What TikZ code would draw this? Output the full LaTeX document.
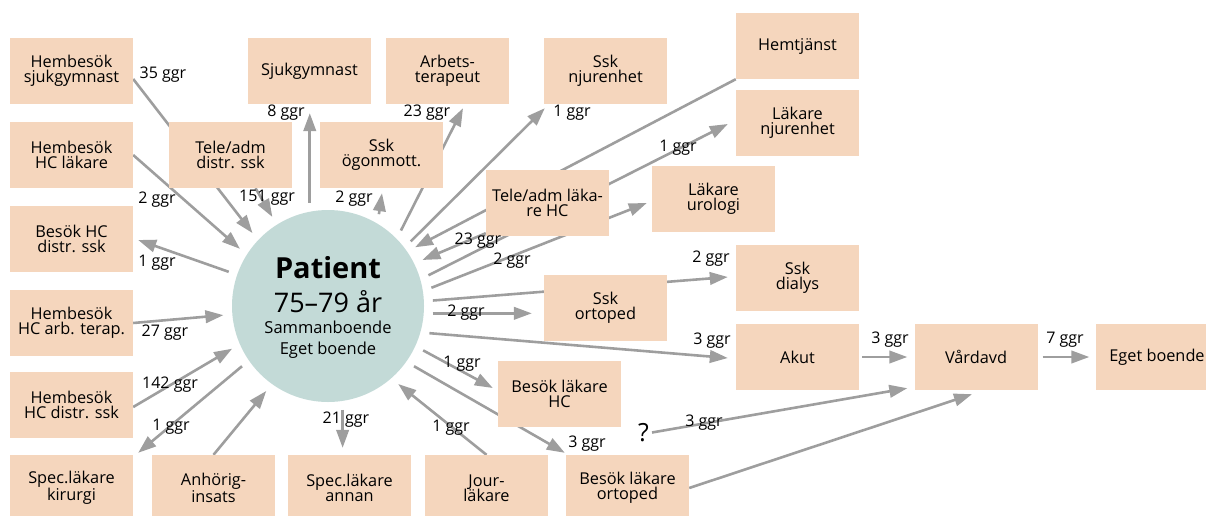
\documentclass[tikz,border=0pt]{standalone}
\usepackage{fontspec}
\setmainfont{Open Sans}
\usetikzlibrary{arrows.meta,calc,backgrounds}
\definecolor{peach}{HTML}{F5D6BD}
\definecolor{pcirc}{HTML}{C3DAD7}
\definecolor{arrgray}{HTML}{9E9E9E}
\begin{document}
\begin{tikzpicture}[x=1pt,y=-1pt,
  box/.style={fill=peach, minimum width=123pt, minimum height=66pt, inner sep=0pt, align=center, font=\fontsize{16.3}{15.5}\selectfont},
  lbl/.style={inner sep=0pt, font=\fontsize{16}{16}\selectfont},
  arr/.style={draw=arrgray, line width=2.6pt, -{Triangle[length=18pt,width=12.5pt]}},
  ptxt/.style={inner sep=0pt, anchor=base}]
\useasboundingbox (0,0) rectangle (1206,515);
\clip (0,0) rectangle (1206,515);
% boxes
\node[box] (hsj) at (71.5,71) {Hembesök\\sjukgymnast};
\node[box] (sjg) at (309.5,71) {Sjukgymnast};
\node[box] (arb) at (447.5,71) {Arbets-\\terapeut};
\node[box] (sskn) at (605.5,71) {Ssk\\njurenhet};
\node[box] (hemt) at (797.5,46) {Hemtjänst};
\node[box] (lakn) at (797.5,123) {Läkare\\njurenhet};
\node[box] (laku) at (713.5,199) {Läkare\\urologi};
\node[box] (tlhc) at (547.5,203) {Tele/adm läka-\\re HC};
\node[box] (hhcl) at (71.5,155) {Hembesök\\HC läkare};
\node[box] (tds) at (230.5,155) {Tele/adm\\distr. ssk};
\node[box] (sskog) at (381.5,155) {Ssk\\ögonmott.};
\node[box] (bhcd) at (71.5,239) {Besök HC\\distr. ssk};
\node[box] (hat) at (71.5,323) {Hembesök\\HC arb. terap.};
\node[box] (hds) at (71.5,405) {Hembesök\\HC distr. ssk};
\node[box] (spk) at (71.5,488) {Spec.läkare\\kirurgi};
\node[box] (anh) at (213.5,488) {Anhörig-\\insats};
\node[box] (spa) at (349.5,488) {Spec.läkare\\annan};
\node[box] (jour) at (486.5,488) {Jour-\\läkare};
\node[box] (blo) at (627.5,488) {Besök läkare\\ortoped};
\node[box] (blhc) at (559.5,394) {Besök läkare\\HC};
\node[box] (ssko) at (605.5,308) {Ssk\\ortoped};
\node[box] (sskd) at (797.5,278) {Ssk\\dialys};
\node[box] (akut) at (797.5,357) {Akut};
\node[box] (vard) at (976,357) {Vårdavd};
\node[box] (egb) at (1157,357) {Eget boende};
% patient
\node[circle, fill=pcirc, minimum size=192pt, inner sep=0pt, outer sep=9pt] (patient) at (328,306) {};
\node[ptxt, font=\fontsize{29}{29}\selectfont\bfseries] (pt1) at (328,278) {Patient};
\node[ptxt, font=\fontsize{27}{27}\selectfont] (pt2) at (328,312) {75–79 år};
\node[ptxt, font=\fontsize{16.5}{16.5}\selectfont] (pt3) at (328,333) {Sammanboende};
\node[ptxt, font=\fontsize{16.5}{16.5}\selectfont] (pt4) at (328,354) {Eget boende};
\node[inner sep=0pt, font=\fontsize{25}{25}\selectfont] (q) at (643.5,433) {?};
% connectors
\begin{pgfonlayer}{background}
\draw[arr] ($(hsj.east)+(0,8)$) -- (patient.136);
\draw[arr] ($(tds.south)+(25,0)$) -- (patient.122);
\draw[arr] (hhcl.east) -- (patient.147);
\draw[arr] (patient.161) -- ($(bhcd.east)+(5,1)$);
\draw[arr] (hat.east) -- (patient.185);
\draw[arr] ($(hds.east)+(0,2)$) -- (patient.204);
\draw[arr] (patient.215) -- ($(spk.north east)+(5,-2)$);
\draw[arr] (anh.north) -- (patient.234);
\draw[arr] (patient.278) -- ($(patient.278 |- spa.north)+(0,-7)$);
\draw[arr] (jour.north) -- (patient.312);
\draw[arr] (patient.325) -- ($(blo.north west)+(-1,-2)$);
\draw[arr] (patient.335) -- ($(blhc.west)+(-5,-6)$);
\draw[arr] (patient.345) -- ($(akut.west)+(-8,1)$);
\draw[arr] (patient.356) -- ($(patient.356 -| ssko.west)+(-12,0)$);
\draw[arr] (patient.3) -- ($(sskd.west)+(-8,-1)$);
\draw[arr] (patient.10) -- ($(laku.west)+(-5,4)$);
\draw[arr] (patient.17) -- ($(lakn.west)+(-8,1)$);
\draw[arr] ($(tlhc.south west)+(0,-3)$) -- (patient.26);
\draw[arr] (hemt.south west) -- (patient.34);
\draw[arr] (patient.38) -- ($(sskn.south west)+(1,4)$);
\draw[arr] (patient.46) -- ($(arb.south)+(15.5,4)$);
\draw[arr] (patient.61) -- ($(sskog.south)+(0.5,5)$);
\draw[arr] (patient.100) -- ($(patient.100 |- sjg.south)+(0,9)$);
\draw[arr, shorten <=3pt, shorten >=7pt] (akut.east) -- (vard.west);
\draw[arr, shorten <=5pt, shorten >=6pt] (vard.east) -- (egb.west);
\draw[arr, shorten <=3pt] (q.east) -- ($(vard.south west)+(-7,-2)$);
\draw[arr] (blo.east) -- ($(vard.south)+(-4,4)$);
\end{pgfonlayer}
% labels
\node[lbl] (l35) at (163,75) {35 ggr};
\node[lbl] (l151) at (267,198) {151 ggr};
\node[lbl] (l2a) at (157,200) {2 ggr};
\node[lbl] (l1a) at (157,263) {1 ggr};
\node[lbl] (l27) at (165,333) {27 ggr};
\node[lbl] (l142) at (170,385) {142 ggr};
\node[lbl] (l1b) at (171,427) {1 ggr};
\node[lbl] (l21) at (346,420) {21 ggr};
\node[lbl] (l1c) at (451,428) {1 ggr};
\node[lbl] (l3a) at (587,444) {3 ggr};
\node[lbl] (l1d) at (462,364) {1 ggr};
\node[lbl] (l3b) at (712,341) {3 ggr};
\node[lbl] (l2b) at (466,313) {2 ggr};
\node[lbl] (l2c) at (711,259) {2 ggr};
\node[lbl] (l2d) at (512,261) {2 ggr};
\node[lbl] (l1e) at (678,148) {1 ggr};
\node[lbl] (l23a) at (478,241) {23 ggr};
\node[lbl] (l1f) at (572,113) {1 ggr};
\node[lbl] (l23b) at (427,113) {23 ggr};
\node[lbl] (l2e) at (354,199) {2 ggr};
\node[lbl] (l8) at (286,113) {8 ggr};
\node[lbl] (l3c) at (890,340) {3 ggr};
\node[lbl] (l7) at (1065,340) {7 ggr};
\node[lbl] (l3d) at (704,423) {3 ggr};
\end{tikzpicture}
\end{document}
